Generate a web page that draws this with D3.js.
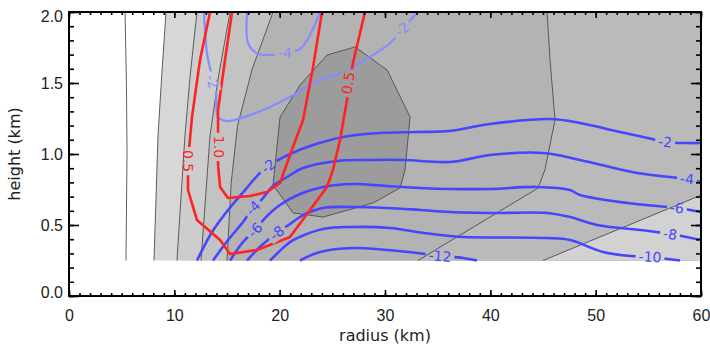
<!DOCTYPE html>
<html lang="en">
<head>
<meta charset="UTF-8">
<title>Radius / height contours</title>
<script src="https://d3js.org/d3.v7.min.js"></script>
<style>
  body { margin: 0; background: #fff; }
  svg { display: block; font-family: "DejaVu Sans", sans-serif; }
  .axis path { display: none; }
  .axis line { stroke: #000; stroke-width: 1.6; }
  .axis text { font-size: 16px; fill: #222; }
  .title { font-size: 16px; fill: #222; text-anchor: middle; }
  .grey { fill: none; stroke: #4d4d4d; stroke-width: 0.9; }
  .clabel { font-size: 14px; text-anchor: middle; dominant-baseline: central; }
</style>
</head>
<body>
<svg id="chart"></svg>
<script>
// axis ticks
const xTicks = [0, 10, 20, 30, 40, 50, 60];
const yTicks = [0, 0.5, 1.0, 1.5, 2.0];

// lowest height of the analysed field (km)
const dataFloor = 0.25;

// grey-field contour lines, [radius km, height km]
const greyLineA = [[5.32, 2.0], [5.45, 1.5], [5.51, 1.03], [5.41, 0.25]];
const greyLineB = [[9.21, 2.0], [8.8, 1.55], [8.45, 1.13], [8.07, 0.25]];
const greyLineC = [[12.15, 2.0], [11.5, 1.55], [11.01, 1.13], [10.25, 0.25]];
const greyLineD = [[15.29, 2.0], [14.2, 1.55], [13.39, 1.13], [12.53, 0.25]];
const greyLineE = [[19.37, 2.0], [17.4, 1.6], [16.0, 1.2], [15.4, 0.8], [15.0, 0.25]];
const greyLineF = [[45.38, 2.0], [45.67, 1.66], [46.14, 1.24], [45.19, 0.89], [44.53, 0.76], [33.13, 0.25]];
const greyLineG = [[60.0, 0.71], [45.0, 0.25]];
const darkCell = [[27.16, 1.754], [30.2, 1.592], [32.38, 1.261], [31.9, 0.887], [31.43, 0.761],
  [28.87, 0.655], [24.12, 0.556], [21.27, 0.585], [19.37, 0.782], [20.04, 1.261], [21.94, 1.486], [24.5, 1.697]];

// red contours (0.5 and 1.0)
const redHalf = [[13.39, 2.0], [12.44, 1.662], [11.68, 1.261], [11.30, 0.958], [11.30, 0.746], [12.15, 0.535],
  [14.34, 0.394], [15.29, 0.296], [17.85, 0.324], [20.98, 0.415], [22.88, 0.606], [24.49, 0.768],
  [25.06, 0.887], [25.73, 1.099], [26.39, 1.38], [26.96, 1.641], [28.10, 2.0]];
const redOne = [[15.48, 2.0], [14.81, 1.662], [14.15, 1.31], [14.15, 0.923], [14.34, 0.768], [15.10, 0.69],
  [17.18, 0.704], [18.80, 0.732], [20.03, 0.796], [20.98, 0.993], [22.22, 1.239], [23.17, 1.613], [24.02, 2.0]];

// light blue contours (-2, -4) in the upper part
const lightM2 = [[12.82, 2.0], [13.10, 1.711], [13.48, 1.577], [13.96, 1.437], [14.15, 1.261], [15.0, 1.232],
  [18.42, 1.31], [20.98, 1.401], [23.17, 1.5], [26.39, 1.592], [28.86, 1.697], [30.48, 1.782], [33.04, 2.0]];
const lightM4 = [[16.90, 2.0], [16.99, 1.782], [17.66, 1.718], [18.61, 1.697], [20.5, 1.71], [21.93, 1.74],
  [22.88, 1.838], [23.83, 2.0]];

// blue contours -2 ... -12
const blueM2 = [[12.15, 0.25], [13.58, 0.451], [15.10, 0.606], [16.71, 0.746], [18.13, 0.866], [19.56, 0.944],
  [20.98, 1.0], [23.17, 1.063], [26.01, 1.12], [29.53, 1.148], [33.04, 1.155], [36.17, 1.162], [39.97, 1.211],
  [45.67, 1.246], [48.51, 1.218], [52.31, 1.155], [54.50, 1.12], [56.59, 1.085], [58.67, 1.077], [60.0, 1.077]];
const blueM4 = [[13.67, 0.25], [15.10, 0.394], [16.52, 0.521], [17.47, 0.62], [18.42, 0.69], [19.37, 0.775],
  [20.70, 0.838], [22.22, 0.901], [25.44, 0.951], [28.58, 0.958], [31.71, 0.958], [36.17, 0.944], [39.97, 0.993],
  [45.0, 1.007], [48.51, 0.958], [53.93, 0.866], [58.67, 0.824], [60.0, 0.803]];
const blueM6 = [[15.29, 0.25], [16.52, 0.38], [17.66, 0.465], [18.61, 0.549], [20.03, 0.641], [21.93, 0.718],
  [24.11, 0.768], [26.96, 0.789], [30.19, 0.775], [33.32, 0.761], [36.17, 0.754], [39.97, 0.754], [44.43, 0.768],
  [47.56, 0.746], [48.51, 0.711], [52.98, 0.655], [57.72, 0.62], [60.0, 0.592]];
const blueM8 = [[16.90, 0.25], [18.32, 0.359], [19.75, 0.444], [20.98, 0.507], [22.22, 0.57], [24.11, 0.62],
  [26.96, 0.627], [30.19, 0.62], [33.32, 0.606], [36.17, 0.592], [40.63, 0.585], [45.38, 0.585], [47.56, 0.556],
  [50.13, 0.5], [54.21, 0.465], [57.06, 0.437], [60.0, 0.394]];
const blueM10 = [[19.08, 0.25], [20.98, 0.38], [21.65, 0.408], [24.11, 0.472], [26.96, 0.486], [30.48, 0.479],
  [33.04, 0.451], [36.17, 0.423], [37.41, 0.415], [45.38, 0.408], [47.56, 0.394], [50.70, 0.31], [53.26, 0.282],
  [55.16, 0.275], [58.01, 0.25]];
const blueM12 = [[21.93, 0.25], [23.83, 0.31], [26.96, 0.338], [30.19, 0.324], [33.04, 0.303], [35.22, 0.282],
  [37.41, 0.268], [38.74, 0.25]];

// contour labels: [text, radius, height, angle]
const blueLabels = [["-2", 18.9, 0.915, -38], ["-2", 56.59, 1.085, 5], ["-4", 17.47, 0.62, -45],
  ["-4", 58.67, 0.824, 5], ["-6", 17.66, 0.465, -45], ["-6", 57.72, 0.62, 5], ["-8", 19.75, 0.444, -38],
  ["-8", 57.06, 0.437, 8], ["-10", 55.16, 0.275, 3], ["-12", 35.22, 0.282, 5]];
const lightLabels = [["-2", 31.6, 1.88, -38], ["-2", 13.6, 1.51, 75], ["-4", 20.5, 1.71, 0]];
const redLabels = [["0.5", 11.3, 0.95, 90], ["0.5", 26.5, 1.5, -82], ["1.0", 14.2, 1.05, 90]];

const W = 710, H = 348;
const margin = {top: 12, right: 9, bottom: 52, left: 69};
const iw = W - margin.left - margin.right;
const ih = H - margin.top - margin.bottom;

const svg = d3.select("#chart").attr("width", W).attr("height", H);
const x = d3.scaleLinear().domain([0, 60]).range([0, iw]);
const y = d3.scaleLinear().domain([0, 2]).range([ih, 0]);

const defs = svg.append("defs");
defs.append("clipPath").attr("id", "plotClip")
  .append("rect").attr("width", iw).attr("height", ih);
const mask = defs.append("mask").attr("id", "labelGaps").attr("maskUnits", "userSpaceOnUse")
  .attr("x", -margin.left).attr("y", -margin.top).attr("width", W).attr("height", H);
mask.append("rect").attr("x", -margin.left).attr("y", -margin.top)
  .attr("width", W).attr("height", H).attr("fill", "#fff");

const g = svg.append("g").attr("transform", `translate(${margin.left},${margin.top})`);
const plot = g.append("g").attr("clip-path", "url(#plotClip)");

const line = d3.line().x(d => x(d[0])).y(d => y(d[1]));
const smooth = d3.line().x(d => x(d[0])).y(d => y(d[1])).curve(d3.curveCatmullRom.alpha(0.5));

// shaded bands: everything right of a contour line
function fillRight(pts, color) {
  plot.append("path")
    .attr("d", line(pts.concat([[60, dataFloor], [60, 2]])) + "Z")
    .attr("fill", color);
}
fillRight(greyLineB, "#d7d7d7");
fillRight(greyLineC, "#cdcdcd");
fillRight(greyLineD, "#c3c3c3");
fillRight(greyLineE, "#b3b3b3");
fillRight(greyLineF, "#bababa");
plot.append("path").attr("d", line(greyLineG.concat([[60, dataFloor]])) + "Z").attr("fill", "#d2d2d2");
plot.append("path").attr("d", line(darkCell) + "Z").attr("fill", "#9c9c9c");

// thin grey contour lines
[greyLineA, greyLineB, greyLineC, greyLineD, greyLineE, greyLineF, greyLineG].forEach(pts => {
  plot.append("path").attr("class", "grey").attr("d", line(pts));
});
plot.append("path").attr("class", "grey").attr("d", line(darkCell) + "Z");

// coloured contours, with gaps under their labels
const lines = plot.append("g").attr("mask", "url(#labelGaps)").attr("fill", "none");
[lightM2, lightM4].forEach(pts => {
  lines.append("path").attr("d", smooth(pts)).attr("stroke", "#8a8aff").attr("stroke-width", 2.2);
});
[blueM2, blueM4, blueM6, blueM8, blueM10, blueM12].forEach(pts => {
  lines.append("path").attr("d", smooth(pts)).attr("stroke", "#4646ff").attr("stroke-width", 2.6);
});
[redHalf, redOne].forEach(pts => {
  lines.append("path").attr("d", line(pts)).attr("stroke", "#ff2323").attr("stroke-width", 2.6)
    .attr("stroke-linejoin", "round");
});

const labelLayer = plot.append("g");
function addLabels(list, color) {
  list.forEach(([txt, r, h, ang]) => {
    const t = labelLayer.append("text").attr("class", "clabel")
      .attr("transform", `translate(${x(r)},${y(h)}) rotate(${ang})`)
      .attr("fill", color).text(txt);
    const w = t.node().getComputedTextLength();
    mask.append("rect").attr("x", -w / 2 - 3).attr("y", -7).attr("width", w + 6).attr("height", 14)
      .attr("transform", `translate(${x(r)},${y(h)}) rotate(${ang})`).attr("fill", "#000");
  });
}
addLabels(blueLabels, "#4646ff");
addLabels(lightLabels, "#8a8aff");
addLabels(redLabels, "#ff2323");

// axes: ticks on all four sides, pointing inward
g.append("g").attr("class", "axis").attr("transform", `translate(0,${ih})`)
  .call(d3.axisBottom(x).tickValues(x.ticks(60)).tickSize(-3).tickFormat(""));
g.append("g").attr("class", "axis").attr("transform", `translate(0,${ih})`)
  .call(d3.axisBottom(x).tickValues(xTicks).tickSize(-6).tickPadding(14).tickFormat(d3.format("d")));
g.append("g").attr("class", "axis")
  .call(d3.axisTop(x).tickValues(x.ticks(60)).tickSize(-3).tickFormat(""));
g.append("g").attr("class", "axis")
  .call(d3.axisTop(x).tickValues(xTicks).tickSize(-6).tickFormat(""));

g.append("g").attr("class", "axis")
  .call(d3.axisLeft(y).tickValues(y.ticks(20)).tickSize(-5).tickFormat(""));
const yAxis = g.append("g").attr("class", "axis")
  .call(d3.axisLeft(y).tickValues(yTicks).tickSize(-10).tickPadding(6).tickFormat(d3.format(".1f")));
yAxis.selectAll("text").attr("dy", d => d === 2 ? "0.57em" : d === 0 ? "0.07em" : "0.32em");
g.append("g").attr("class", "axis").attr("transform", `translate(${iw},0)`)
  .call(d3.axisRight(y).tickValues(y.ticks(20)).tickSize(-5).tickFormat(""));
g.append("g").attr("class", "axis").attr("transform", `translate(${iw},0)`)
  .call(d3.axisRight(y).tickValues(yTicks).tickSize(-10).tickFormat(""));

g.append("rect").attr("width", iw).attr("height", ih)
  .attr("fill", "none").attr("stroke", "#000").attr("stroke-width", 2);

g.append("text").attr("class", "title")
  .attr("x", iw / 2).attr("y", ih + 45).text("radius (km)");
g.append("text").attr("class", "title")
  .attr("transform", `translate(${-margin.left + 20},${ih / 2}) rotate(-90)`)
  .text("height (km)");
</script>
</body>
</html>
